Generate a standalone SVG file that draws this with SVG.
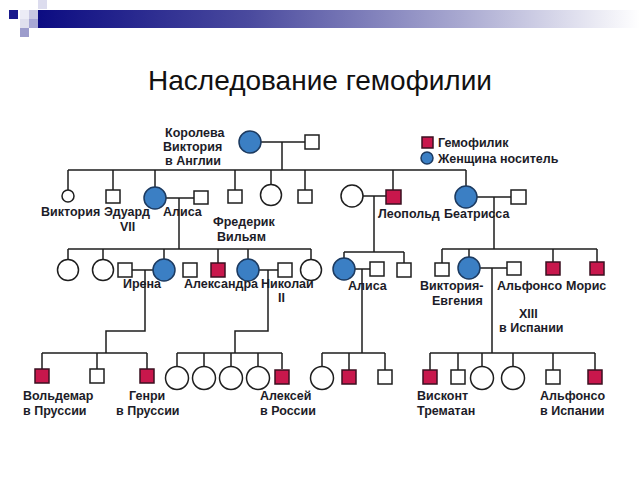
<svg xmlns="http://www.w3.org/2000/svg" width="640" height="480" viewBox="0 0 640 480">
<defs>
<linearGradient id="bar" x1="0" y1="0" x2="1" y2="0">
<stop offset="0" stop-color="#0c0c82"/>
<stop offset="0.35" stop-color="#4a4a9e"/>
<stop offset="0.7" stop-color="#a8a8d0"/>
<stop offset="1" stop-color="#ffffff"/>
</linearGradient>
<style>
.ln{fill:none;stroke:#1e1e1e;stroke-width:1.5}
.m{fill:#fff;stroke:#1e1e1e;stroke-width:1.5}
.h{fill:#c8174c;stroke:#3a1020;stroke-width:1.5}
.f{fill:#fff;stroke:#1e1e1e;stroke-width:1.5}
.c{fill:#3b7fc4;stroke:#1c3a60;stroke-width:1.5}
.t{font-family:"Liberation Sans",Arial,sans-serif;font-weight:bold;font-size:12.5px;fill:#1c1c28}
.title{font-family:"Liberation Sans",Arial,sans-serif;font-size:28px;fill:#111}
</style>
</defs>
<rect width="640" height="480" fill="#fff"/>
<g id="header">
<rect x="38" y="10" width="602" height="18" fill="url(#bar)"/>
<rect x="9" y="10" width="9" height="9" fill="#1a1a8c"/>
<rect x="38" y="0" width="9" height="9" fill="#dcdcee"/>
<rect x="20" y="10" width="9" height="9" fill="#ececf6"/>
<rect x="29" y="10" width="9" height="9" fill="#c8c8e2"/>
<rect x="20" y="19" width="9" height="9" fill="#e0e0ee"/>
<rect x="29" y="19" width="9" height="9" fill="#a8a8d4"/>
<rect x="20" y="28" width="9" height="9" fill="#9c9ccc"/>
</g>
<text class="title" x="320" y="90" text-anchor="middle">Наследование гемофилии</text>

<g id="connectors">
<path class="ln" d="M261 142H305M282 142V170M68 170H466M68 170V190M113 170V190M155 170V187M235 170V190M271 170V185M305 170V190M393 170V190M466 170V186"/>
<path class="ln" d="M165 198H194M179 198V249M68 249H311M68 249V259M103 249V259M164 249V259M218 249V263M248 249V259M311 249V259"/>
<path class="ln" d="M363 196H386M374 196V252M344 252H404M344 252V259M404 252V263"/>
<path class="ln" d="M477 197H511M494 197V249M442 249H597M442 249V263M469 249V257M553 249V262M597 249V262"/>
<path class="ln" d="M132 270H153M145 270V331H106V353M42 353H147M42 353V369M97 353V369M147 353V369"/>
<path class="ln" d="M258 270H278M268 270V331H235V353M177 353H282M177 353V366M204 353V366M231 353V366M258 353V366M282 353V369"/>
<path class="ln" d="M355 269H370M362 269V353M322 353H385M322 353V366M349 353V370M385 353V370"/>
<path class="ln" d="M480 268H507M492 268V353M430 353H595M430 353V370M458 353V370M482 353V366M513 353V366M553 353V370M595 353V370"/>
</g>

<g id="legend">
<rect class="h" x="422" y="137" width="11" height="11"/>
<text class="t" x="438" y="147">Гемофилик</text>
<circle class="c" cx="427" cy="158" r="6"/>
<text class="t" x="438" y="163">Женщина носитель</text>
</g>

<g id="queen-victoria">
<circle class="c" cx="250" cy="142" r="11"/>
<text class="t" x="165" y="137">Королева</text>
<text class="t" x="163" y="151">Виктория</text>
<text class="t" x="165" y="165">в Англии</text>
</g>
<g id="albert"><rect class="m" x="305" y="135" width="14" height="14"/></g>

<g id="victoria"><circle class="f" cx="68" cy="196" r="6"/><text class="t" x="41" y="216">Виктория</text></g>
<g id="edward"><rect class="m" x="106" y="190" width="14" height="13"/><text class="t" x="104" y="216">Эдуард</text><text class="t" x="120" y="231">VII</text></g>
<g id="alice"><circle class="c" cx="155" cy="198" r="11"/><text class="t" x="163" y="216">Алиса</text></g>
<g id="alice-husband"><rect class="m" x="194" y="191" width="14" height="13"/></g>
<g id="frederick-label"><text class="t" x="213" y="226">Фредерик</text><text class="t" x="217" y="241">Вильям</text></g>
<g id="son2"><rect class="m" x="228" y="190" width="14" height="13"/></g>
<g id="daughter2"><circle class="f" cx="271" cy="195" r="10.5"/></g>
<g id="son3"><rect class="m" x="298" y="190" width="14" height="13"/></g>
<g id="leopold-wife"><circle class="f" cx="352" cy="196" r="11"/></g>
<g id="leopold"><rect class="h" x="386" y="190" width="15" height="14"/><text class="t" x="378" y="218">Леопольд</text></g>
<g id="beatrice"><circle class="c" cx="466" cy="197" r="11"/><text class="t" x="444" y="218">Беатрисса</text></g>
<g id="beatrice-husband"><rect class="m" x="511" y="190" width="15" height="14"/></g>

<g id="h-d1"><circle class="f" cx="68" cy="270" r="10.5"/></g>
<g id="h-d2"><circle class="f" cx="103" cy="270" r="10.5"/></g>
<g id="irene-husband"><rect class="m" x="118" y="263" width="14" height="14"/></g>
<g id="irene"><circle class="c" cx="164" cy="270" r="11"/><text class="t" x="123" y="288">Ирена</text></g>
<g id="h-s1"><rect class="m" x="183" y="263" width="14" height="14"/></g>
<g id="h-s2"><rect class="h" x="211" y="263" width="14" height="14"/></g>
<g id="alexandra"><circle class="c" cx="248" cy="270" r="11"/><text class="t" x="184" y="288">Александра</text></g>
<g id="nicholas"><rect class="m" x="278" y="263" width="14" height="14"/><text class="t" x="261" y="288">Николай</text><text class="t" x="278" y="302">II</text></g>
<g id="h-d3"><circle class="f" cx="311" cy="270" r="10.5"/></g>

<g id="alice-albany"><circle class="c" cx="344" cy="269" r="11"/><text class="t" x="348" y="290">Алиса</text></g>
<g id="alice-albany-husband"><rect class="m" x="370" y="262" width="14" height="14"/></g>
<g id="albany-son"><rect class="m" x="397" y="263" width="14" height="14"/></g>

<g id="b-s1"><rect class="m" x="435" y="263" width="14" height="13"/></g>
<g id="victoria-eugenia"><circle class="c" cx="469" cy="268" r="11"/><text class="t" x="420" y="290">Виктория-</text><text class="t" x="432" y="305">Евгения</text></g>
<g id="alfonso13"><rect class="m" x="507" y="262" width="14" height="13"/><text class="t" x="497" y="290">Альфонсо</text><text class="t" x="519" y="318">XIII</text><text class="t" x="499" y="332">в Испании</text></g>
<g id="b-s2"><rect class="h" x="546" y="262" width="14" height="13"/></g>
<g id="maurice"><rect class="h" x="590" y="262" width="14" height="13"/><text class="t" x="566" y="290">Морис</text></g>

<g id="waldemar"><rect class="h" x="35" y="369" width="14" height="14"/><text class="t" x="23" y="400">Вольдемар</text><text class="t" x="23" y="415">в Пруссии</text></g>
<g id="i-s2"><rect class="m" x="90" y="369" width="14" height="14"/></g>
<g id="henry"><rect class="h" x="140" y="369" width="14" height="14"/><text class="t" x="129" y="400">Генри</text><text class="t" x="116" y="415">в Пруссии</text></g>

<g id="r-d1"><circle class="f" cx="177" cy="378" r="11.5"/></g>
<g id="r-d2"><circle class="f" cx="204" cy="378" r="11.5"/></g>
<g id="r-d3"><circle class="f" cx="231" cy="378" r="11.5"/></g>
<g id="r-d4"><circle class="f" cx="258" cy="378" r="11.5"/></g>
<g id="alexei"><rect class="h" x="275" y="370" width="14" height="14"/><text class="t" x="260" y="400">Алексей</text><text class="t" x="260" y="415">в России</text></g>

<g id="a-d1"><circle class="f" cx="322" cy="378" r="11.5"/></g>
<g id="a-s1"><rect class="h" x="342" y="370" width="14" height="14"/></g>
<g id="a-s2"><rect class="m" x="378" y="370" width="14" height="14"/></g>

<g id="trematon"><rect class="h" x="423" y="370" width="14" height="14"/><text class="t" x="417" y="400">Висконт</text><text class="t" x="417" y="415">Трематан</text></g>
<g id="s-s2"><rect class="m" x="451" y="370" width="14" height="14"/></g>
<g id="s-d1"><circle class="f" cx="482" cy="378" r="11.5"/></g>
<g id="s-d2"><circle class="f" cx="513" cy="378" r="11.5"/></g>
<g id="s-s3"><rect class="m" x="546" y="370" width="14" height="14"/></g>
<g id="alfonso"><rect class="h" x="588" y="370" width="14" height="14"/><text class="t" x="540" y="400">Альфонсо</text><text class="t" x="540" y="415">в Испании</text></g>
</svg>
